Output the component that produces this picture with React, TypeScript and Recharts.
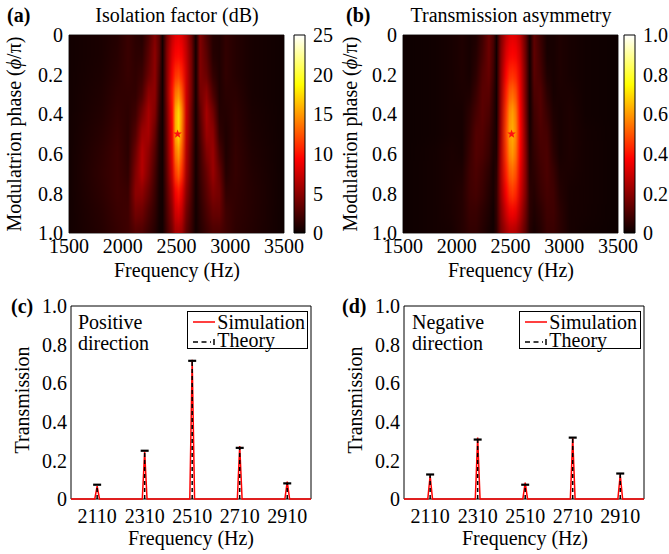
import React from "react";
import { Bar, BarChart, Cell, ComposedChart, Line, ReferenceArea, ReferenceDot, Scatter, XAxis, YAxis } from "recharts";

const FONT = "'Liberation Serif', 'DejaVu Serif', Times, serif";

// heatmap rows (phase, in units of pi) and the frequencies where each row is sampled
const phaseRows = [0, 0.1, 0.2, 0.3, 0.4, 0.5, 0.6, 0.7, 0.8, 0.9, 1.0];
const heatFreqs = [1500, 1800, 1950, 2050, 2120, 2180, 2240, 2300, 2340, 2370, 2410, 2460, 2490, 2520, 2550, 2590, 2640, 2680, 2720, 2780, 2840, 2900, 2960, 3050, 3200, 3500];

// (a) isolation factor, dB
const isolationDb = [
	[0.3, 0.6, 1.0, 1.8, 1.2, 1.0, 2.5, 4.5, 3.0, 0.3, 4.0, 7.0, 8.2, 8.5, 8.0, 6.5, 3.5, 0.3, 4.5, 2.5, 1.0, 0.8, 1.5, 1.0, 0.5, 0.2],
	[0.3, 0.6, 1.1, 1.8, 1.3, 1.3, 3.0, 5.0, 3.0, 0.3, 4.5, 8.0, 9.2, 9.5, 9.0, 7.0, 4.0, 0.3, 4.5, 3.0, 1.0, 0.8, 1.5, 1.0, 0.5, 0.2],
	[0.3, 0.7, 1.2, 1.7, 1.4, 1.8, 3.5, 5.0, 2.5, 0.3, 4.5, 9.0, 11.0, 11.5, 10.5, 7.5, 4.0, 0.3, 4.5, 3.5, 1.5, 0.8, 1.5, 1.0, 0.5, 0.2],
	[0.3, 0.8, 1.4, 1.5, 1.5, 2.5, 5.0, 5.0, 2.0, 0.3, 4.5, 10.0, 13.5, 14.5, 12.5, 7.5, 4.0, 0.3, 4.0, 5.0, 2.5, 0.8, 1.2, 1.2, 0.5, 0.2],
	[0.3, 0.9, 1.6, 1.3, 2.0, 4.0, 6.0, 4.5, 1.5, 0.3, 4.0, 9.5, 15.5, 17.5, 14.5, 7.5, 3.5, 0.3, 3.0, 6.0, 4.0, 1.0, 1.0, 1.4, 0.6, 0.2],
	[0.3, 1.1, 1.8, 1.2, 2.8, 5.5, 6.0, 3.5, 1.0, 0.3, 3.8, 9.0, 15.5, 17.5, 14.0, 7.0, 3.5, 0.3, 2.5, 5.5, 5.0, 1.5, 0.8, 1.5, 0.7, 0.2],
	[0.3, 1.3, 2.0, 1.2, 3.8, 6.5, 5.0, 2.8, 0.8, 0.3, 3.5, 8.5, 13.5, 15.0, 12.5, 6.5, 3.0, 0.3, 2.0, 4.5, 5.5, 2.5, 0.8, 1.6, 0.8, 0.2],
	[0.3, 1.4, 2.0, 1.4, 4.5, 6.5, 4.5, 2.2, 0.6, 0.3, 3.2, 7.5, 11.5, 13.0, 11.0, 6.0, 2.8, 0.3, 1.8, 3.5, 5.5, 3.5, 1.0, 1.6, 0.9, 0.2],
	[0.3, 1.3, 2.0, 1.8, 5.0, 5.0, 3.5, 1.8, 0.5, 0.3, 2.8, 6.0, 9.0, 10.0, 8.5, 5.0, 2.4, 0.3, 1.5, 3.0, 4.5, 4.0, 1.5, 1.5, 1.0, 0.2],
	[0.3, 1.1, 1.8, 2.0, 4.0, 3.8, 2.5, 1.4, 0.4, 0.3, 2.4, 5.0, 7.5, 8.0, 7.0, 4.0, 2.0, 0.3, 1.2, 2.4, 3.5, 3.5, 2.0, 1.4, 1.0, 0.2],
	[0.3, 1.0, 1.6, 2.0, 2.8, 2.6, 1.8, 1.0, 0.3, 0.3, 2.0, 4.0, 5.8, 6.0, 5.5, 3.2, 1.6, 0.3, 1.0, 1.8, 2.5, 2.5, 2.0, 1.3, 0.9, 0.2]
];

// (b) transmission asymmetry
const asymmetry = [
	[0.005, 0.01, 0.02, 0.03, 0.02, 0.03, 0.08, 0.15, 0.1, 0.01, 0.17, 0.28, 0.32, 0.33, 0.32, 0.27, 0.14, 0.01, 0.13, 0.07, 0.02, 0.02, 0.03, 0.02, 0.01, 0.005],
	[0.005, 0.01, 0.02, 0.03, 0.02, 0.04, 0.09, 0.15, 0.09, 0.01, 0.19, 0.32, 0.36, 0.37, 0.36, 0.3, 0.15, 0.01, 0.13, 0.08, 0.02, 0.02, 0.03, 0.02, 0.01, 0.005],
	[0.005, 0.01, 0.02, 0.03, 0.02, 0.05, 0.11, 0.14, 0.08, 0.01, 0.2, 0.37, 0.43, 0.44, 0.42, 0.33, 0.16, 0.01, 0.12, 0.09, 0.03, 0.02, 0.03, 0.02, 0.01, 0.005],
	[0.005, 0.01, 0.02, 0.025, 0.03, 0.07, 0.12, 0.12, 0.06, 0.01, 0.21, 0.42, 0.51, 0.53, 0.49, 0.35, 0.16, 0.01, 0.1, 0.11, 0.05, 0.02, 0.025, 0.025, 0.01, 0.005],
	[0.005, 0.01, 0.02, 0.02, 0.05, 0.09, 0.12, 0.1, 0.05, 0.01, 0.22, 0.46, 0.58, 0.61, 0.55, 0.37, 0.17, 0.01, 0.08, 0.11, 0.07, 0.03, 0.02, 0.03, 0.01, 0.005],
	[0.005, 0.01, 0.02, 0.02, 0.06, 0.11, 0.11, 0.08, 0.04, 0.02, 0.23, 0.48, 0.6, 0.63, 0.57, 0.38, 0.18, 0.02, 0.07, 0.1, 0.09, 0.04, 0.02, 0.03, 0.015, 0.005],
	[0.005, 0.015, 0.025, 0.02, 0.07, 0.11, 0.1, 0.07, 0.03, 0.03, 0.24, 0.46, 0.57, 0.6, 0.54, 0.37, 0.19, 0.03, 0.06, 0.09, 0.1, 0.05, 0.02, 0.03, 0.015, 0.005],
	[0.005, 0.015, 0.025, 0.03, 0.08, 0.1, 0.08, 0.05, 0.02, 0.05, 0.24, 0.42, 0.51, 0.53, 0.49, 0.34, 0.19, 0.04, 0.05, 0.08, 0.1, 0.07, 0.03, 0.025, 0.015, 0.005],
	[0.005, 0.015, 0.025, 0.04, 0.08, 0.09, 0.07, 0.04, 0.02, 0.06, 0.22, 0.37, 0.44, 0.46, 0.43, 0.31, 0.18, 0.05, 0.04, 0.07, 0.09, 0.08, 0.04, 0.02, 0.015, 0.005],
	[0.005, 0.015, 0.025, 0.04, 0.07, 0.07, 0.05, 0.03, 0.01, 0.06, 0.19, 0.3, 0.35, 0.36, 0.34, 0.26, 0.15, 0.05, 0.03, 0.05, 0.08, 0.08, 0.05, 0.02, 0.015, 0.005],
	[0.005, 0.015, 0.02, 0.04, 0.06, 0.06, 0.04, 0.02, 0.01, 0.05, 0.16, 0.23, 0.26, 0.26, 0.25, 0.2, 0.12, 0.04, 0.02, 0.04, 0.07, 0.07, 0.05, 0.02, 0.01, 0.005]
];

const heatFreqTicks = [1500, 2000, 2500, 3000, 3500];
const phaseTicks = [0, 0.2, 0.4, 0.6, 0.8, 1.0];
const optimum = { freq: 2510, phase: 0.5 };
const dbTicks = [0, 5, 10, 15, 20, 25];
const asymTicks = [0, 0.2, 0.4, 0.6, 0.8, 1.0];

// (c), (d) transmission spectra
const stemFreqs = [2110, 2310, 2510, 2710, 2910];
const theoryPos = [0.074, 0.25, 0.716, 0.265, 0.081];
const theoryNeg = [0.127, 0.308, 0.074, 0.318, 0.132];
const simFreqs = [2000, 2100, 2110, 2120, 2300, 2310, 2320, 2500, 2510, 2520, 2700, 2710, 2720, 2900, 2910, 2920, 3010];
const simPos = [0, 0, 0.066, 0, 0, 0.245, 0, 0, 0.722, 0, 0, 0.275, 0, 0, 0.09, 0, 0];
const simNeg = [0, 0, 0.12, 0, 0, 0.318, 0, 0, 0.085, 0, 0, 0.318, 0, 0, 0.125, 0, 0];
const transTicks = [0, 0.2, 0.4, 0.6, 0.8, 1.0];

// matlab "hot"
function hot(t: number) {
	const c = Math.max(0, Math.min(1, t));
	const r = Math.min(1, 0.04 + (c / 0.375) * 0.96);
	const g = Math.max(0, Math.min(1, (c - 0.375) / 0.375));
	const b = Math.max(0, Math.min(1, (c - 0.75) / 0.25));
	return `rgb(${Math.round(r * 255)},${Math.round(g * 255)},${Math.round(b * 255)})`;
}

const fmt1 = (v: number) => (v === 0 ? "0" : v.toFixed(1));
const TICK = { fill: "#000", fontSize: 20, fontFamily: FONT };

const Star = (props: any) => {
	const { cx, cy } = props;
	const pts: string[] = [];
	for (let k = 0; k < 10; k++) {
		const r = k % 2 === 0 ? 4.5 : 1.9;
		const a = -Math.PI / 2 + (k * Math.PI) / 5;
		pts.push(`${cx + r * Math.cos(a)},${cy + r * Math.sin(a)}`);
	}
	return <polygon points={pts.join(" ")} fill="#ff1010" />;
};

// each heatmap row is a strip; first and last are stretched past the frame (clipped), then blurred vertically
const HeatRow = (props: any) => {
	const { x, y, width, height, fill, index } = props;
	const mid = y + height / 2;
	let top = mid - 11;
	let h = 22;
	if (index === 0) {
		top -= 25;
		h += 25;
	}
	if (index === phaseRows.length - 1) h += 25;
	return <rect x={x} y={top} width={width} height={h} fill={fill} />;
};

function HeatPanel({ id, left }: { id: string; left: number }) {
	const rows = phaseRows.map((p) => ({ phase: p, span: [1500, 3500] }));
	return (
		<div className="heat" style={{ position: "absolute", left, top: 0 }}>
			<ComposedChart layout="vertical" width={290} height={280} data={rows} margin={{ top: 35, right: 6, bottom: 17, left: 0 }}>
				<XAxis
					type="number"
					domain={[1500, 3500]}
					ticks={heatFreqTicks}
					allowDataOverflow
					height={30}
					axisLine={false}
					tickLine={false}
					tickSize={4}
					tickMargin={2}
					tick={TICK}
					interval={0}
				/>
				<YAxis
					type="number"
					dataKey="phase"
					domain={[0, 1]}
					allowDataOverflow
					ticks={phaseTicks}
					width={69}
					axisLine={false}
					tickLine={false}
					tickSize={4}
					tickMargin={2}
					tick={TICK}
					tickFormatter={fmt1}
					interval={0}
				/>
				<Bar dataKey="span" isAnimationActive={false} shape={HeatRow}>
					{rows.map((_, i) => (
						<Cell key={i} fill={`url(#${id}-row${i})`} />
					))}
				</Bar>
				<ReferenceArea x1={1500} x2={3500} y1={0} y2={1} fill="none" stroke="#262626" strokeWidth={1} />
				<ReferenceDot x={optimum.freq} y={optimum.phase} r={4} shape={Star} />
			</ComposedChart>
		</div>
	);
}

function Colorbar({ left, vmax, ticks }: { left: number; vmax: number; ticks: number[] }) {
	return (
		<div style={{ position: "absolute", left, top: 25 }}>
			<BarChart width={51} height={218} data={[{ k: "c", v: [0, vmax] }]} margin={{ top: 10, right: 0, bottom: 10, left: 0 }} barCategoryGap={0}>
				<XAxis dataKey="k" hide />
				<YAxis
					orientation="right"
					type="number"
					domain={[0, vmax]}
					ticks={ticks}
					width={40}
					axisLine={false}
					tickLine={false}
					tickSize={4}
					tickMargin={4}
					tick={{ ...TICK, textAnchor: "start" }}
					tickFormatter={(v: number) => (vmax === 1 ? fmt1(v) : String(v))}
					interval={0}
				/>
				<Bar dataKey="v" fill="url(#hotV)" stroke="#000" strokeWidth={1} isAnimationActive={false} />
			</BarChart>
		</div>
	);
}

const Cap = (props: any) => {
	const { cx, cy } = props;
	return <line x1={cx - 4} x2={cx + 4} y1={cy} y2={cy} stroke="#000" strokeWidth={2.2} />;
};

function StemPanel({ left, sim, theory }: { left: number; sim: number[]; theory: number[] }) {
	const simData = simFreqs.map((f, i) => ({ f, v: sim[i] }));
	const capData = stemFreqs.map((f, i) => ({ f, v: theory[i] }));
	const stemData = stemFreqs.flatMap((f, i) => [
		{ f, v: 0 },
		{ f, v: theory[i] },
		{ f, v: null }
	]);
	return (
		<div style={{ position: "absolute", left, top: 290 }}>
			<ComposedChart width={318} height={250} margin={{ top: 16, right: 7, bottom: 11, left: 0 }}>
				<XAxis
					type="number"
					dataKey="f"
					domain={[2000, 3010]}
					ticks={stemFreqs}
					allowDataOverflow
					height={30}
					axisLine={false}
					tickLine={false}
					tickSize={4}
					tickMargin={6}
					tick={TICK}
					interval={0}
				/>
				<YAxis
					type="number"
					dataKey="v"
					domain={[0, 1]}
					ticks={transTicks}
					width={71}
					axisLine={false}
					tickLine={false}
					tickSize={2}
					tickMargin={2}
					tick={TICK}
					tickFormatter={fmt1}
					interval={0}
				/>
				<Line data={simData} dataKey="v" type="linear" stroke="#ff0000" strokeWidth={1.5} dot={false} isAnimationActive={false} />
				<Line
					data={stemData}
					dataKey="v"
					type="linear"
					stroke="#000"
					strokeWidth={1.5}
					strokeDasharray="4 3"
					dot={false}
					connectNulls={false}
					isAnimationActive={false}
				/>
				<Scatter data={capData} dataKey="v" shape={Cap} isAnimationActive={false} />
				<ReferenceArea x1={2000} x2={3010} y1={0} y2={1} fill="none" stroke="#000" strokeWidth={1} />
			</ComposedChart>
		</div>
	);
}

function LegendBox({ left, width }: { left: number; width: number }) {
	const row: React.CSSProperties = { display: "flex", alignItems: "center", height: 18, lineHeight: "18px" };
	return (
		<div
			style={{
				position: "absolute",
				left,
				top: 310.7,
				width,
				height: 38,
				border: "1px solid #000",
				background: "#fff",
				fontSize: 20,
				boxSizing: "border-box",
				paddingTop: 1
			}}
		>
			<div style={row}>
				<svg width={29} height={18}>
					<line x1={5} x2={27} y1={9} y2={9} stroke="#ff0000" strokeWidth={1.5} />
				</svg>
				<span>Simulation</span>
			</div>
			<div style={row}>
				<svg width={29} height={18}>
					<line x1={5} x2={23} y1={11} y2={11} stroke="#000" strokeWidth={1.5} strokeDasharray="5 3.5" />
					<line x1={26} x2={26} y1={8} y2={14} stroke="#000" strokeWidth={1.5} />
				</svg>
				<span>Theory</span>
			</div>
		</div>
	);
}

function Txt({ x, y, children, bold, anchor = "middle", rotate }: any) {
	const tx = anchor === "middle" ? "-50%" : "0";
	return (
		<div
			style={{
				position: "absolute",
				left: x,
				top: y,
				transform: `translate(${tx}, -50%)${rotate ? " rotate(-90deg)" : ""}`,
				transformOrigin: "center",
				whiteSpace: "nowrap",
				fontSize: 20,
				lineHeight: "22px",
				fontWeight: bold ? "bold" : "normal"
			}}
		>
			{children}
		</div>
	);
}

const phaseLabel = (
	<>
		Modulatrion phase (<i>ϕ</i>/π)
	</>
);

export default function App() {
	return (
		<div
			style={{
				position: "absolute",
				left: 0,
				top: 0,
				width: 669,
				height: 554,
				background: "#fff",
				fontFamily: FONT,
				color: "#000",
				overflow: "hidden"
			}}
		>
			<style>{`.heat .recharts-bar-rectangles { filter: url(#vblur); } .recharts-surface { overflow: visible; }`}</style>
			<svg width={0} height={0} style={{ position: "absolute" }}>
				<defs>
					<filter id="vblur" x="-5%" y="-20%" width="110%" height="140%" colorInterpolationFilters="sRGB">
						<feGaussianBlur stdDeviation="0 7" />
					</filter>
					<linearGradient id="hotV" x1="0" y1="1" x2="0" y2="0">
						{[0, 0.375, 0.75, 1].map((t) => (
							<stop key={t} offset={t} stopColor={hot(t)} />
						))}
					</linearGradient>
					{isolationDb.map((row, i) => (
						<linearGradient key={`a${i}`} id={`ha-row${i}`} x1="0" y1="0" x2="1" y2="0">
							{row.map((v, j) => (
								<stop key={j} offset={(heatFreqs[j] - 1500) / 2000} stopColor={hot(v / 25)} />
							))}
						</linearGradient>
					))}
					{asymmetry.map((row, i) => (
						<linearGradient key={`b${i}`} id={`hb-row${i}`} x1="0" y1="0" x2="1" y2="0">
							{row.map((v, j) => (
								<stop key={j} offset={(heatFreqs[j] - 1500) / 2000} stopColor={hot(v)} />
							))}
						</linearGradient>
					))}
				</defs>
			</svg>

			<HeatPanel id="ha" left={0} />
			<Colorbar left={294} vmax={25} ticks={dbTicks} />
			<HeatPanel id="hb" left={334} />
			<Colorbar left={624} vmax={1} ticks={asymTicks} />

			<StemPanel left={0} sim={simPos} theory={theoryPos} />
			<StemPanel left={333} sim={simNeg} theory={theoryNeg} />
			<LegendBox left={187.3} width={120.4} />
			<LegendBox left={519.3} width={121.7} />

			<Txt x={7} y={15} bold anchor="start">(a)</Txt>
			<Txt x={177} y={15}>Isolation factor (dB)</Txt>
			<Txt x={14} y={134} rotate>{phaseLabel}</Txt>
			<Txt x={177} y={270}>Frequency (Hz)</Txt>

			<Txt x={346} y={15} bold anchor="start">(b)</Txt>
			<Txt x={511} y={15}>Transmission asymmetry</Txt>
			<Txt x={350} y={134} rotate>{phaseLabel}</Txt>
			<Txt x={511} y={270}>Frequency (Hz)</Txt>

			<Txt x={11} y={306} bold anchor="start">(c)</Txt>
			<Txt x={78} y={322} anchor="start">Positive</Txt>
			<Txt x={78} y={343} anchor="start">direction</Txt>
			<Txt x={22} y={400} rotate>Transmission</Txt>
			<Txt x={191} y={538}>Frequency (Hz)</Txt>

			<Txt x={342} y={306} bold anchor="start">(d)</Txt>
			<Txt x={412} y={322} anchor="start">Negative</Txt>
			<Txt x={412} y={343} anchor="start">direction</Txt>
			<Txt x={355} y={400} rotate>Transmission</Txt>
			<Txt x={525} y={538}>Frequency (Hz)</Txt>
		</div>
	);
}
